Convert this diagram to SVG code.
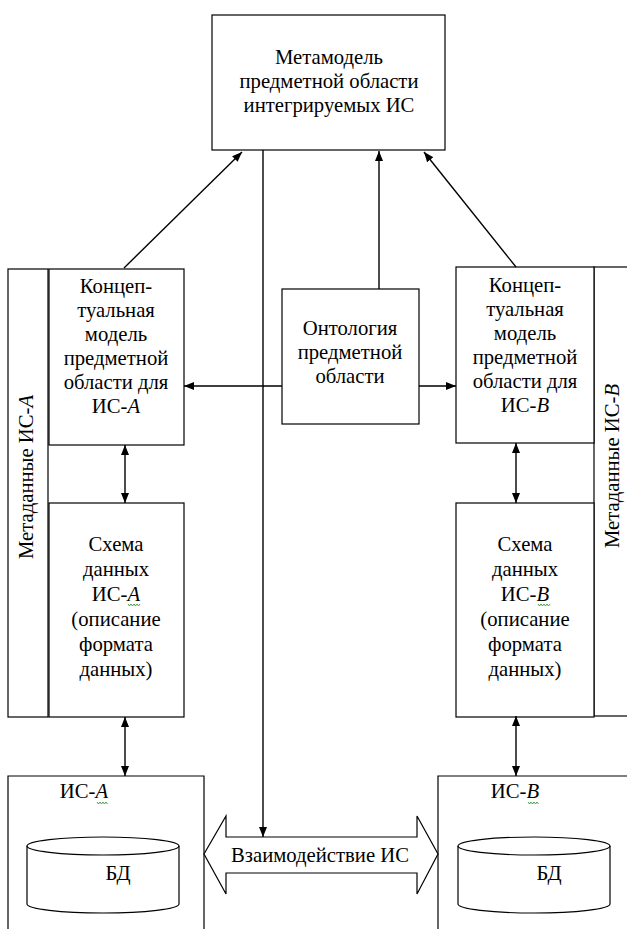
<svg xmlns="http://www.w3.org/2000/svg" width="627" height="929" viewBox="0 0 627 929">
  <style>
    .box { fill: #fff; stroke: #000; stroke-width: 1.2; }
    .shape { fill: none; stroke: #000; stroke-width: 1.2; }
    .t { font-family: "Liberation Serif", "DejaVu Serif", serif; font-size: 20.7px; fill: #000; text-anchor: middle; }
    .i { font-style: italic; }
    .edge { fill: none; stroke: #000; stroke-width: 1.4; }
    .squig { fill: none; stroke: #3a9a3a; stroke-width: 0.9; }
  </style>
  <defs>
    <marker id="arrow" markerUnits="userSpaceOnUse" markerWidth="10" markerHeight="8" refX="10" refY="4" orient="auto-start-reverse">
      <path d="M0,0 L10,4 L0,8 z" fill="#000"/>
    </marker>
  </defs>

  <!-- white page -->
  <rect x="0" y="0" width="627" height="929" fill="#fff"/>

  <!-- Metamodel of the integrated IS domain -->
  <g id="metamodel">
    <rect class="box" x="212" y="15" width="233" height="135"/>
    <text class="t" x="329" y="64">Метамодель</text>
    <text class="t" x="329" y="88">предметной области</text>
    <text class="t" x="329" y="112">интегрируемых ИС</text>
  </g>

  <!-- Metadata IS-A side band -->
  <g id="metadata-a">
    <rect class="box" x="8" y="269" width="40" height="448"/>
    <text class="t" transform="translate(33,477) rotate(-90)">Метаданные ИС-<tspan class="i">А</tspan></text>
  </g>

  <!-- Metadata IS-B side band -->
  <g id="metadata-b">
    <rect class="box" x="594" y="267" width="60" height="449"/>
    <text class="t" transform="translate(619,466) rotate(-90)">Метаданные ИС-<tspan class="i">В</tspan></text>
  </g>

  <!-- Conceptual model A -->
  <g id="concept-a">
    <rect class="box" x="49" y="269" width="135" height="176"/>
    <text class="t" x="116" y="293">Концеп-</text>
    <text class="t" x="116" y="317">туальная</text>
    <text class="t" x="116" y="341">модель</text>
    <text class="t" x="116" y="365">предметной</text>
    <text class="t" x="116" y="389">области для</text>
    <text class="t" x="116" y="413">ИС-<tspan class="i">А</tspan></text>
  </g>

  <!-- Conceptual model B -->
  <g id="concept-b">
    <rect class="box" x="456" y="267" width="138" height="176"/>
    <text class="t" x="525" y="292">Концеп-</text>
    <text class="t" x="525" y="316">туальная</text>
    <text class="t" x="525" y="340">модель</text>
    <text class="t" x="525" y="364">предметной</text>
    <text class="t" x="525" y="388">области для</text>
    <text class="t" x="525" y="412">ИС-<tspan class="i">В</tspan></text>
  </g>

  <!-- Domain ontology -->
  <g id="ontology">
    <rect class="box" x="282" y="289" width="137" height="135"/>
    <text class="t" x="350" y="335">Онтология</text>
    <text class="t" x="350" y="359">предметной</text>
    <text class="t" x="350" y="383">области</text>
  </g>

  <!-- Data schema A -->
  <g id="schema-a">
    <rect class="box" x="49" y="503" width="135" height="214"/>
    <text class="t" x="116" y="551">Схема</text>
    <text class="t" x="116" y="576">данных</text>
    <text class="t" x="116" y="601">ИС-<tspan class="i">А</tspan></text>
    <text class="t" x="116" y="626">(описание</text>
    <text class="t" x="116" y="651">формата</text>
    <text class="t" x="116" y="676">данных)</text>
    <path class="squig" d="M128,604 l1.5,2 l1.5,-2 l1.5,2 l1.5,-2 l1.5,2 l1.5,-2 l1.5,2 l1.5,-2"/>
  </g>

  <!-- Data schema B -->
  <g id="schema-b">
    <rect class="box" x="456" y="503" width="138" height="214"/>
    <text class="t" x="525" y="551">Схема</text>
    <text class="t" x="525" y="576">данных</text>
    <text class="t" x="525" y="601">ИС-<tspan class="i">В</tspan></text>
    <text class="t" x="525" y="626">(описание</text>
    <text class="t" x="525" y="651">формата</text>
    <text class="t" x="525" y="676">данных)</text>
    <path class="squig" d="M538,604 l1.5,2 l1.5,-2 l1.5,2 l1.5,-2 l1.5,2 l1.5,-2 l1.5,2 l1.5,-2"/>
  </g>

  <!-- Information system A with its database -->
  <g id="is-a">
    <path class="box" d="M8,940 V776 H204 V940"/>
    <text class="t" x="84" y="798">ИС-<tspan class="i">А</tspan></text>
    <path class="squig" d="M97,802 l1.5,2 l1.5,-2 l1.5,2 l1.5,-2 l1.5,2 l1.5,-2 l1.5,2"/>
    <path class="shape" d="M27,846 V904 A76,9 0 0 0 179,904 V846"/>
    <ellipse class="shape" cx="103" cy="846" rx="76" ry="9"/>
    <text class="t" x="118" y="880">БД</text>
  </g>

  <!-- Information system B with its database -->
  <g id="is-b">
    <path class="box" d="M438,940 V776 H640"/>
    <text class="t" x="515" y="798">ИС-<tspan class="i">В</tspan></text>
    <path class="squig" d="M528,802 l1.5,2 l1.5,-2 l1.5,2 l1.5,-2 l1.5,2 l1.5,-2 l1.5,2"/>
    <path class="shape" d="M458,846 V904 A76,9 0 0 0 610,904 V846"/>
    <ellipse class="shape" cx="534" cy="846" rx="76" ry="9"/>
    <text class="t" x="549" y="880">БД</text>
  </g>

  <!-- IS interaction block arrow -->
  <g id="interaction">
    <polygon class="box" points="204,854 226,816 226,837 417,837 417,816 438,854 417,894 417,873 226,873 226,894"/>
    <text class="t" x="320" y="862">Взаимодействие ИС</text>
  </g>

  <!-- Connectors -->
  <g id="connectors">
    <line class="edge" x1="124" y1="268" x2="242" y2="152" marker-end="url(#arrow)"/>
    <line class="edge" x1="379" y1="289" x2="379" y2="151" marker-end="url(#arrow)"/>
    <line class="edge" x1="516" y1="267" x2="424" y2="152" marker-end="url(#arrow)"/>
    <line class="edge" x1="263" y1="150" x2="263" y2="837" marker-end="url(#arrow)"/>
    <line class="edge" x1="282" y1="386" x2="184" y2="386" marker-end="url(#arrow)"/>
    <line class="edge" x1="419" y1="386" x2="456" y2="386" marker-end="url(#arrow)"/>
    <line class="edge" x1="125" y1="445" x2="125" y2="503" marker-start="url(#arrow)" marker-end="url(#arrow)"/>
    <line class="edge" x1="125" y1="717" x2="125" y2="776" marker-start="url(#arrow)" marker-end="url(#arrow)"/>
    <line class="edge" x1="516" y1="443" x2="516" y2="503" marker-start="url(#arrow)" marker-end="url(#arrow)"/>
    <line class="edge" x1="516" y1="716" x2="516" y2="776" marker-start="url(#arrow)" marker-end="url(#arrow)"/>
  </g>
</svg>
